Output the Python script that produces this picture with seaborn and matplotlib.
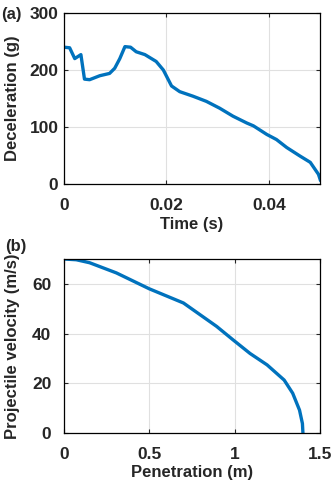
import matplotlib
matplotlib.use('Agg')
import matplotlib.pyplot as plt
import pandas as pd
import seaborn as sns

# (a) deceleration vs time
time_s = [0, 0.0011, 0.0021, 0.0033, 0.004, 0.005, 0.007, 0.0089, 0.0099, 0.0109,
          0.0119, 0.013, 0.0141, 0.0158, 0.018, 0.0194, 0.021, 0.0226, 0.0252,
          0.0278, 0.0304, 0.033, 0.0357, 0.037, 0.0396, 0.0415, 0.0435, 0.0461,
          0.0481, 0.0497, 0.0501]
decel_g = [240, 239, 220, 227, 184, 183, 190, 194, 203, 220,
           241, 240, 232, 227, 215, 200, 172, 162, 154,
           145, 133, 119, 107, 102, 87, 78, 64, 49,
           38, 17, 6]

# (b) velocity vs penetration
penetration_m = [0, 0.072, 0.15, 0.307, 0.5, 0.70, 0.894, 0.99, 1.09, 1.19,
                 1.29, 1.34, 1.38, 1.397, 1.40]
velocity_ms = [70, 69.7, 68.5, 64.4, 58, 52.3, 42.9, 37.5, 32, 27.4,
               21.3, 16, 9.2, 3.8, 0]

sns.set_style('whitegrid')
plt.rcParams['font.family'] = ['Liberation Sans', 'DejaVu Sans']
plt.rcParams['font.weight'] = 'bold'

blue = '#0072BD'
fig = plt.figure(figsize=(3.32, 4.84), dpi=100)
ax1 = fig.add_axes([64/332, 1 - 184/484, 256/332, 171/484])
ax2 = fig.add_axes([64/332, 1 - 433/484, 256/332, 174/484])

df_a = pd.DataFrame({'t': time_s, 'g': decel_g})
df_b = pd.DataFrame({'p': penetration_m, 'v': velocity_ms})
sns.lineplot(data=df_a, x='t', y='g', ax=ax1, color=blue, linewidth=2.4)
sns.lineplot(data=df_b, x='p', y='v', ax=ax2, color=blue, linewidth=2.4)

ax1.set_xlim(0, 0.05)
ax1.set_ylim(0, 300)
ax1.set_xticks([0, 0.02, 0.04])
ax1.set_xticklabels(['0', '0.02', '0.04'])
ax1.set_yticks([0, 100, 200, 300])
ax1.set_xlabel('Time (s)', fontsize=12, fontweight='bold', labelpad=3)
ax1.set_ylabel('Deceleration (g)', fontsize=12, fontweight='bold')

ax2.set_xlim(0, 1.5)
ax2.set_ylim(0, 70)
ax2.set_xticks([0, 0.5, 1, 1.5])
ax2.set_xticklabels(['0', '0.5', '1', '1.5'])
ax2.set_yticks([0, 20, 40, 60])
ax2.set_xlabel('Penetration (m)', fontsize=12, fontweight='bold', labelpad=2)
ax2.set_ylabel('Projectile velocity (m/s)', fontsize=12, fontweight='bold')

for ax in (ax1, ax2):
    ax.grid(True, color='#e0e0e0', linewidth=0.8)
    ax.tick_params(labelsize=12.5, direction='in', length=3, width=0.8,
                   top=True, right=True, left=True, bottom=True)
    ax.tick_params(axis='x', pad=10)
    ax.yaxis.set_label_coords(-0.172, 0.5)
    for s in ax.spines.values():
        s.set_visible(True)
        s.set_color('black')
        s.set_linewidth(0.9)

ax1.tick_params(axis='y', pad=4)
ax2.tick_params(axis='y', pad=9)

fig.text(1/332, 1 - 14/484, '(a)', fontsize=12, fontweight='bold', va='center', ha='left')
fig.text(5/332, 1 - 246/484, '(b)', fontsize=12, fontweight='bold', va='center', ha='left')

fig.savefig('out.png', dpi=100)
